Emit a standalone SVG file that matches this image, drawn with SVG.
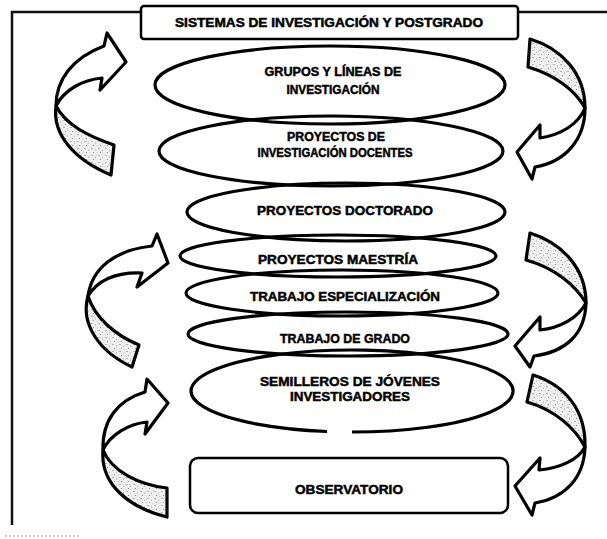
<svg xmlns="http://www.w3.org/2000/svg" width="607" height="539" viewBox="0 0 607 539">
<defs>
<pattern id="stip" width="7" height="7" patternUnits="userSpaceOnUse">
<rect width="7" height="7" fill="#f0f0f0"/>
<circle cx="1" cy="1.5" r="0.6" fill="#666"/>
<circle cx="4.5" cy="3" r="0.5" fill="#888"/>
<circle cx="2.5" cy="5.5" r="0.6" fill="#777"/>
<circle cx="6" cy="6" r="0.4" fill="#999"/>
</pattern>
</defs>
<style>
.frame{fill:none;stroke:#111;stroke-width:2.5}
.node{fill:none;stroke:#000;stroke-width:3.2}
.box{fill:#fff;stroke:#000;stroke-width:2.5}
.t{font-family:"Liberation Sans",Arial,sans-serif;font-weight:bold;font-size:12px;fill:#000;stroke:#000;stroke-width:0.45;text-anchor:middle}
.head{fill:#fff;stroke:#000;stroke-width:3.2;stroke-linejoin:round}
.tail{fill:url(#stip);stroke:#000;stroke-width:3.2;stroke-linejoin:round}
</style>
<rect width="607" height="539" fill="#fff"/>
<path class="frame" d="M12,525 L12,12 L607,12"/>
<path d="M5,536 L80,536" stroke="#999" stroke-width="1" stroke-dasharray="2,2"/>

<g id="connectors">
<path class="tail" d="M56,106 C52,135 75,160 111,175 L114,145 C88,136 66,125 56,106 Z"/>
<path class="head" d="M56,106 C56,80 72,58 104,46 L107,33 L126,62 L100,90 L102,78 C82,80 64,90 56,106 Z"/>
<path class="tail" d="M88,296 C80,325 100,352 132,367 L139,345 C115,335 95,318 88,296 Z"/>
<path class="head" d="M88,296 C92,268 115,250 152,246 L157,234 L168,263 L137,287 L142,273 C115,272 98,280 88,296 Z"/>
<path class="tail" d="M103,450 C100,485 130,508 167,517 L167,488 C140,485 112,472 103,450 Z"/>
<path class="head" d="M103,450 C102,420 118,400 145,392 L147,379 L168,403 L145,434 L147,422 C128,424 110,435 103,450 Z"/>
<path class="tail" d="M530,39 C560,48 585,72 585,108 C575,90 555,75 528,67 Z"/>
<path class="head" d="M585,108 C585,140 565,162 535,167 L532,179 L517,152 L540,125 L540,138 C560,135 578,125 585,108 Z"/>
<path class="tail" d="M530,233 C562,243 586,268 586,303 C575,285 555,268 526,260 Z"/>
<path class="head" d="M586,303 C585,335 565,352 534,356 L530,367 L515,346 L540,317 L540,330 C560,328 578,318 586,303 Z"/>
<path class="tail" d="M533,375 C565,385 586,410 585,447 C575,428 555,410 527,402 Z"/>
<path class="head" d="M585,447 C584,478 565,498 535,503 L532,515 L515,486 L540,458 L539,470 C560,468 578,460 585,447 Z"/>
</g>

<g id="title">
<rect class="box" x="141" y="6" width="377" height="33" rx="3"/>
<text class="t" x="329" y="27" textLength="308" lengthAdjust="spacingAndGlyphs">SISTEMAS DE INVESTIGACIÓN Y POSTGRADO</text>
</g>
<g id="grupos">
<ellipse class="node" cx="330" cy="85" rx="175" ry="39"/>
<text class="t" x="333" y="76" textLength="137" lengthAdjust="spacingAndGlyphs">GRUPOS Y LÍNEAS DE</text>
<text class="t" x="333" y="94" textLength="93" lengthAdjust="spacingAndGlyphs">INVESTIGACIÓN</text>
</g>
<g id="docentes">
<ellipse class="node" cx="331" cy="151" rx="172" ry="35"/>
<text class="t" x="336" y="141" textLength="98" lengthAdjust="spacingAndGlyphs">PROYECTOS DE</text>
<text class="t" x="335" y="157" textLength="155" lengthAdjust="spacingAndGlyphs">INVESTIGACIÓN DOCENTES</text>
</g>
<g id="doctorado">
<ellipse class="node" cx="346" cy="212" rx="159" ry="29"/>
<text class="t" x="345" y="215" textLength="176" lengthAdjust="spacingAndGlyphs">PROYECTOS DOCTORADO</text>
</g>
<g id="maestria">
<ellipse class="node" cx="338" cy="256" rx="158" ry="21"/>
<text class="t" x="338" y="264" textLength="160" lengthAdjust="spacingAndGlyphs">PROYECTOS MAESTRÍA</text>
</g>
<g id="especializacion">
<ellipse class="node" cx="342" cy="293" rx="156" ry="23"/>
<text class="t" x="345" y="301" textLength="190" lengthAdjust="spacingAndGlyphs">TRABAJO ESPECIALIZACIÓN</text>
</g>
<g id="grado">
<ellipse class="node" cx="348" cy="334" rx="160" ry="22"/>
<text class="t" x="345" y="343" textLength="130" lengthAdjust="spacingAndGlyphs">TRABAJO DE GRADO</text>
</g>
<g id="semilleros">
<path class="node" d="M352,432 A161,41 0 1 0 327,431.5"/>
<text class="t" x="350" y="386" textLength="180" lengthAdjust="spacingAndGlyphs">SEMILLEROS DE JÓVENES</text>
<text class="t" x="350" y="401" textLength="120" lengthAdjust="spacingAndGlyphs">INVESTIGADORES</text>
</g>
<g id="observatorio">
<rect class="box" x="190" y="458" width="318" height="55" rx="8"/>
<text class="t" x="349" y="494" textLength="108" lengthAdjust="spacingAndGlyphs">OBSERVATORIO</text>
</g>
</svg>
